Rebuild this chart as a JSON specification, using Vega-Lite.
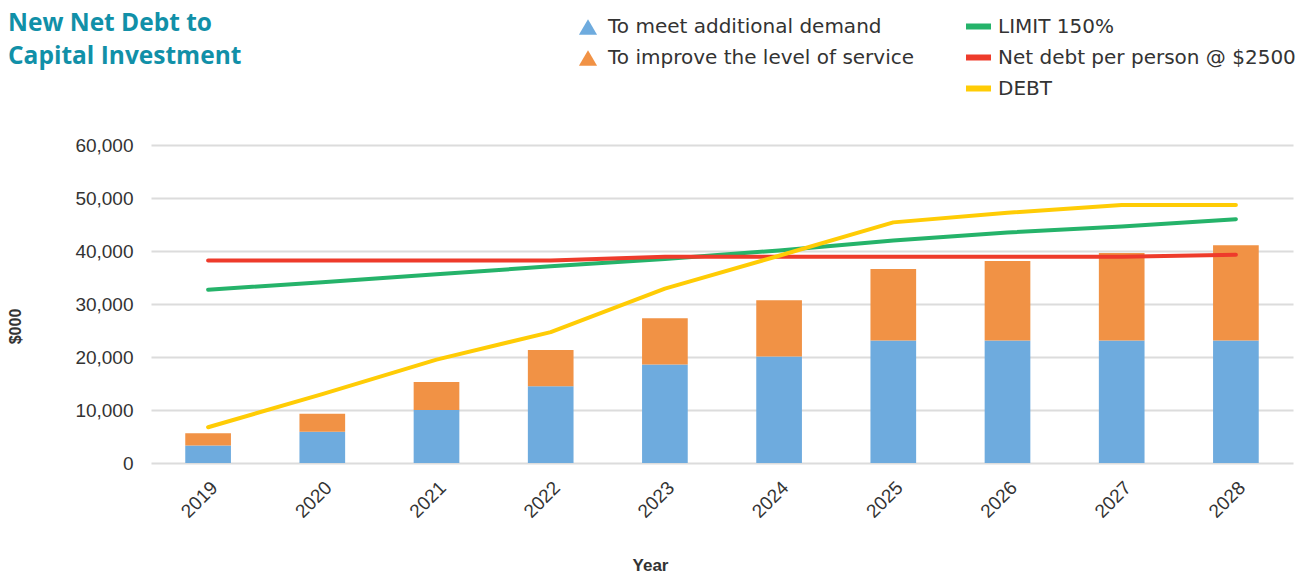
{
  "$schema": "https://vega.github.io/schema/vega-lite/v6.json",
  "width": 1142,
  "height": 318,
  "autosize": {"type": "none"},
  "padding": {"left": 151, "top": 145, "right": 13, "bottom": 114},
  "background": "white",
  "title": {
    "text": ["New Net Debt to", "Capital Investment"],
    "anchor": "start",
    "frame": "group",
    "orient": "top",
    "baseline": "top",
    "dx": -143,
    "dy": 62,
    "font": "Open Sans",
    "fontSize": 24.5,
    "fontWeight": "bold",
    "color": "#1190a8",
    "lineHeight": 33
  },
  "datasets": {
    "bars": [
      {"year": "2019", "series": "To meet additional demand", "value": 3300},
      {"year": "2019", "series": "To improve the level of service", "value": 2300},
      {"year": "2020", "series": "To meet additional demand", "value": 5900},
      {"year": "2020", "series": "To improve the level of service", "value": 3400},
      {"year": "2021", "series": "To meet additional demand", "value": 10000},
      {"year": "2021", "series": "To improve the level of service", "value": 5300},
      {"year": "2022", "series": "To meet additional demand", "value": 14500},
      {"year": "2022", "series": "To improve the level of service", "value": 6800},
      {"year": "2023", "series": "To meet additional demand", "value": 18600},
      {"year": "2023", "series": "To improve the level of service", "value": 8700},
      {"year": "2024", "series": "To meet additional demand", "value": 20100},
      {"year": "2024", "series": "To improve the level of service", "value": 10600},
      {"year": "2025", "series": "To meet additional demand", "value": 23100},
      {"year": "2025", "series": "To improve the level of service", "value": 13500},
      {"year": "2026", "series": "To meet additional demand", "value": 23100},
      {"year": "2026", "series": "To improve the level of service", "value": 15000},
      {"year": "2027", "series": "To meet additional demand", "value": 23100},
      {"year": "2027", "series": "To improve the level of service", "value": 16500},
      {"year": "2028", "series": "To meet additional demand", "value": 23100},
      {"year": "2028", "series": "To improve the level of service", "value": 18000}
    ],
    "lines": [
      {"year": "2019", "series": "LIMIT 150%", "value": 32700},
      {"year": "2020", "series": "LIMIT 150%", "value": 34100},
      {"year": "2021", "series": "LIMIT 150%", "value": 35600},
      {"year": "2022", "series": "LIMIT 150%", "value": 37100},
      {"year": "2023", "series": "LIMIT 150%", "value": 38500},
      {"year": "2024", "series": "LIMIT 150%", "value": 40100},
      {"year": "2025", "series": "LIMIT 150%", "value": 42000},
      {"year": "2026", "series": "LIMIT 150%", "value": 43500},
      {"year": "2027", "series": "LIMIT 150%", "value": 44600},
      {"year": "2028", "series": "LIMIT 150%", "value": 46000},
      {"year": "2019", "series": "Net debt per person @ $2500", "value": 38200},
      {"year": "2020", "series": "Net debt per person @ $2500", "value": 38200},
      {"year": "2021", "series": "Net debt per person @ $2500", "value": 38200},
      {"year": "2022", "series": "Net debt per person @ $2500", "value": 38200},
      {"year": "2023", "series": "Net debt per person @ $2500", "value": 38900},
      {"year": "2024", "series": "Net debt per person @ $2500", "value": 38900},
      {"year": "2025", "series": "Net debt per person @ $2500", "value": 38900},
      {"year": "2026", "series": "Net debt per person @ $2500", "value": 38900},
      {"year": "2027", "series": "Net debt per person @ $2500", "value": 38900},
      {"year": "2028", "series": "Net debt per person @ $2500", "value": 39300},
      {"year": "2019", "series": "DEBT", "value": 6750},
      {"year": "2020", "series": "DEBT", "value": 13000},
      {"year": "2021", "series": "DEBT", "value": 19500},
      {"year": "2022", "series": "DEBT", "value": 24700},
      {"year": "2023", "series": "DEBT", "value": 32900},
      {"year": "2024", "series": "DEBT", "value": 39100},
      {"year": "2025", "series": "DEBT", "value": 45400},
      {"year": "2026", "series": "DEBT", "value": 47200},
      {"year": "2027", "series": "DEBT", "value": 48700},
      {"year": "2028", "series": "DEBT", "value": 48700}
    ]
  },
  "encoding": {
    "x": {
      "field": "year",
      "type": "ordinal",
      "scale": {"paddingInner": 0, "paddingOuter": 0},
      "axis": {
        "title": "Year",
        "titleFont": "Liberation Sans",
        "titleFontSize": 17,
        "titleFontWeight": "bold",
        "titleColor": "#333333",
        "titleX": 499,
        "titleY": 102,
        "titleBaseline": "middle",
        "titleAlign": "center",
        "labelAngle": -45,
        "labelAlign": "right",
        "labelBaseline": "top",
        "labelFont": "Liberation Sans",
        "labelFontSize": 19,
        "labelColor": "#333333",
        "labelPadding": 15,
        "ticks": false,
        "domain": false,
        "grid": false
      }
    },
    "y": {
      "field": "value",
      "type": "quantitative",
      "scale": {"domain": [0, 60000], "nice": false},
      "axis": {
        "title": "$000",
        "titleFont": "Liberation Sans",
        "titleFontSize": 16,
        "titleFontWeight": "bold",
        "titleColor": "#333333",
        "titleAngle": -90,
        "titleX": -136,
        "titleY": 181,
        "titleAlign": "center",
        "titleBaseline": "middle",
        "values": [0, 10000, 20000, 30000, 40000, 50000, 60000],
        "format": ",.0f",
        "labelFont": "Liberation Sans",
        "labelFontSize": 19,
        "labelColor": "#333333",
        "labelPadding": 18,
        "ticks": false,
        "domain": false,
        "grid": true,
        "gridColor": "#dcdcdc",
        "gridWidth": 2
      }
    }
  },
  "layer": [
    {
      "data": {"name": "bars"},
      "mark": {"type": "bar", "width": {"band": 0.4}},
      "encoding": {
        "y": {"field": "value", "type": "quantitative", "stack": "zero"},
        "fill": {
          "field": "series",
          "type": "nominal",
          "scale": {
            "domain": ["To meet additional demand", "To improve the level of service"],
            "range": ["#6eabde", "#f19245"]
          },
          "legend": {
            "title": null,
            "orient": "none",
            "legendX": 427,
            "legendY": -128,
            "symbolType": "triangle-up",
            "symbolSize": 330,
            "symbolStrokeWidth": 0,
            "labelFont": "DejaVu Sans",
            "labelFontSize": 20,
            "labelColor": "#333333",
            "labelOffset": 10,
            "rowPadding": 11,
            "labelLimit": 400
          }
        },
        "order": {"field": "series", "sort": "descending"}
      }
    },
    {
      "data": {"name": "lines"},
      "mark": {"type": "line", "strokeWidth": 4, "strokeCap": "round", "strokeJoin": "round"},
      "encoding": {
        "stroke": {
          "field": "series",
          "type": "nominal",
          "scale": {
            "domain": ["LIMIT 150%", "Net debt per person @ $2500", "DEBT"],
            "range": ["#25b36a", "#ee3b2b", "#ffcc05"]
          },
          "legend": {
            "title": null,
            "orient": "none",
            "legendX": 812,
            "legendY": -134,
            "symbolType": "stroke",
            "symbolSize": 625,
            "symbolStrokeWidth": 6,
            "labelFont": "DejaVu Sans",
            "labelFontSize": 20,
            "labelColor": "#333333",
            "labelOffset": 4,
            "rowPadding": 3,
            "labelLimit": 400
          }
        }
      }
    }
  ],
  "config": {
    "view": {"stroke": null}
  }
}
